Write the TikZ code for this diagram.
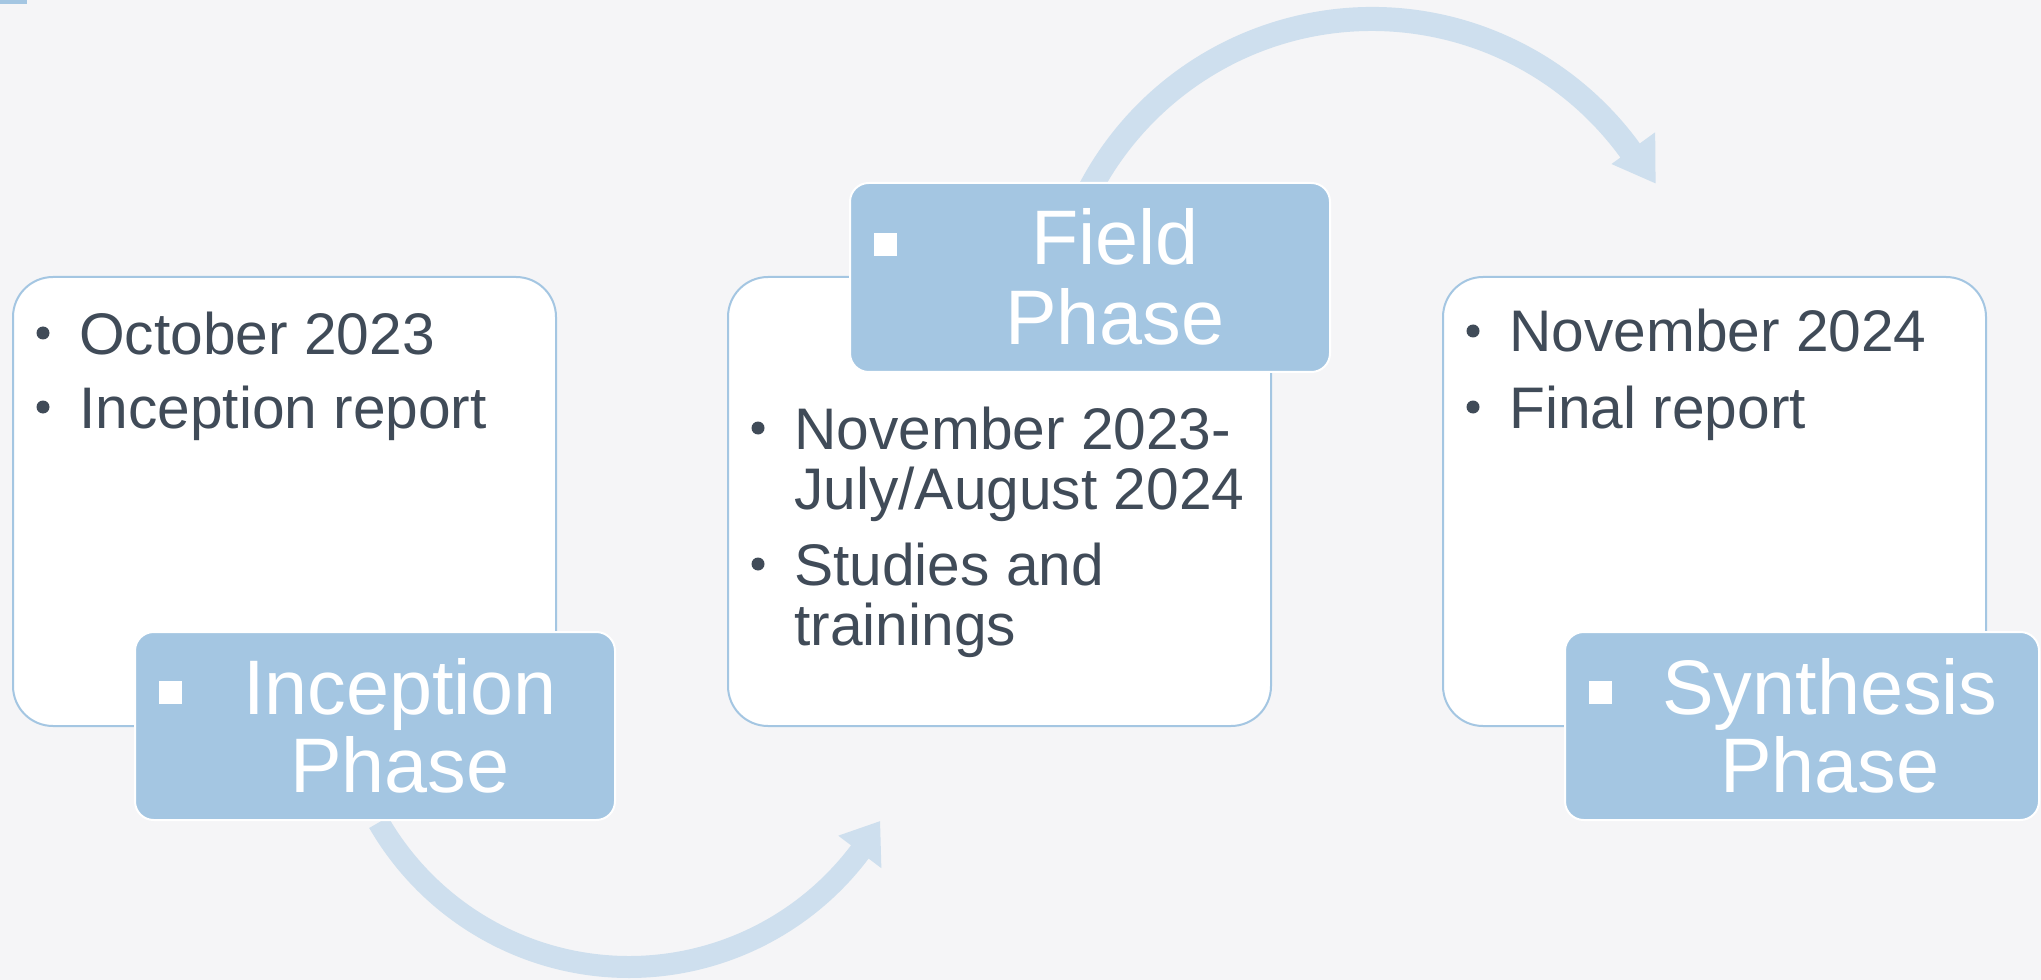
\documentclass[tikz,border=0pt]{standalone}
\usepackage{fontspec}
\setmainfont{Liberation Sans}
\usepackage{xcolor}
\usetikzlibrary{calc}

\definecolor{bgcol}{RGB}{245,245,247}
\definecolor{phaseblue}{RGB}{164,198,226}
\definecolor{arrowblue}{RGB}{206,223,238}
\definecolor{textgray}{RGB}{64,75,88}

\begin{document}
\begin{tikzpicture}[x=0.75pt,y=0.75pt,yscale=-1,xscale=1,
    infobox/.style={draw=phaseblue,fill=white,line width=1.5pt,rounded corners=30pt},
    phasebox/.style={draw=white,fill=phaseblue,line width=1.5pt,rounded corners=14pt},
    squaremark/.style={fill=white},
    dotmark/.style={circle,fill=textgray,inner sep=0pt,minimum size=9.75pt},
    itemtext/.style={anchor=base west,inner sep=0pt,text=textgray,font=\fontsize{44}{46}\selectfont},
    phasetext/.style={anchor=base,inner sep=0pt,text=white,font=\fontsize{58}{59}\selectfont},
    curvearrow/.style={fill=arrowblue}]
        %set diagram left start at 0, and has height of 980
        \useasboundingbox (0,0) rectangle (2041,980);
        \fill[bgcol] (0,0) rectangle (2041,980);
        \fill[phaseblue] (0,0) rectangle (27,4);

        \coordinate (topctr) at (1372,338);
        \coordinate (botctr) at (629,678);

        %Shape: Curved Arrow (top)
        \fill[curvearrow] ($(topctr)+(-152:331)$) arc[start angle=-152,end angle=-36,radius=331] -- ($(topctr)+(-36:350)$) -- ($(topctr)+(-28.6:323)$) -- ($(topctr)+(-36:296)$) -- ($(topctr)+(-36:307)$) arc[start angle=-36,end angle=-152,radius=307] -- cycle;
        %Shape: Curved Arrow (bottom)
        \fill[curvearrow] ($(botctr)+(150:300)$) arc[start angle=150,end angle=37,radius=300] -- ($(botctr)+(37:316)$) -- ($(botctr)+(29.7:289)$) -- ($(botctr)+(37:262)$) -- ($(botctr)+(37:278)$) arc[start angle=37,end angle=150,radius=278] -- cycle;

        %Shape: Rounded Rect
        \draw[infobox] (13,277) rectangle (556,726);
        %Shape: Rounded Rect
        \draw[infobox] (728,277) rectangle (1271,726);
        %Shape: Rounded Rect
        \draw[infobox] (1443,277) rectangle (1986,726);

        %Shape: Rounded Rect
        \draw[phasebox] (135,632) rectangle (615,820);
        %Shape: Rounded Rect
        \draw[phasebox] (850,183) rectangle (1330,372);
        %Shape: Rounded Rect
        \draw[phasebox] (1565,632) rectangle (2039,820);

        %Shape: Square
        \fill[squaremark] (159,681) rectangle (182,704);
        \fill[squaremark] (874,233) rectangle (897,256);
        \fill[squaremark] (1589,681) rectangle (1612,704);

        % Text Node
        \node[phasetext] (inc1) at (400,714) {Inception};
        \node[phasetext] (inc2) at (400,792) {Phase};
        % Text Node
        \node[phasetext] (fld1) at (1115,265) {Field};
        \node[phasetext] (fld2) at (1115,345) {Phase};
        % Text Node
        \node[phasetext] (syn1) at (1830,714) {Synthesis};
        \node[phasetext] (syn2) at (1830,792) {Phase};

        % Text Node
        \node[dotmark] (d1) at (43,333) {};
        \node[itemtext] (oct) at (79,354) {October 2023};
        \node[dotmark] (d2) at (43,407) {};
        \node[itemtext] (increp) at (79,428) {Inception report};
        % Text Node
        \node[dotmark] (d3) at (758,428) {};
        \node[itemtext] (nov1) at (794,449) {November 2023-};
        \node[itemtext] (jul) at (794,509) {July/August 2024};
        \node[dotmark] (d4) at (758,564) {};
        \node[itemtext] (stud) at (794,585) {Studies and};
        \node[itemtext] (train) at (794,645) {trainings};
        % Text Node
        \node[dotmark] (d5) at (1473,331) {};
        \node[itemtext] (nov2) at (1509,352) {November 2024};
        \node[dotmark] (d6) at (1473,407) {};
        \node[itemtext] (finrep) at (1509,428) {Final report};

\end{tikzpicture}
\end{document}
